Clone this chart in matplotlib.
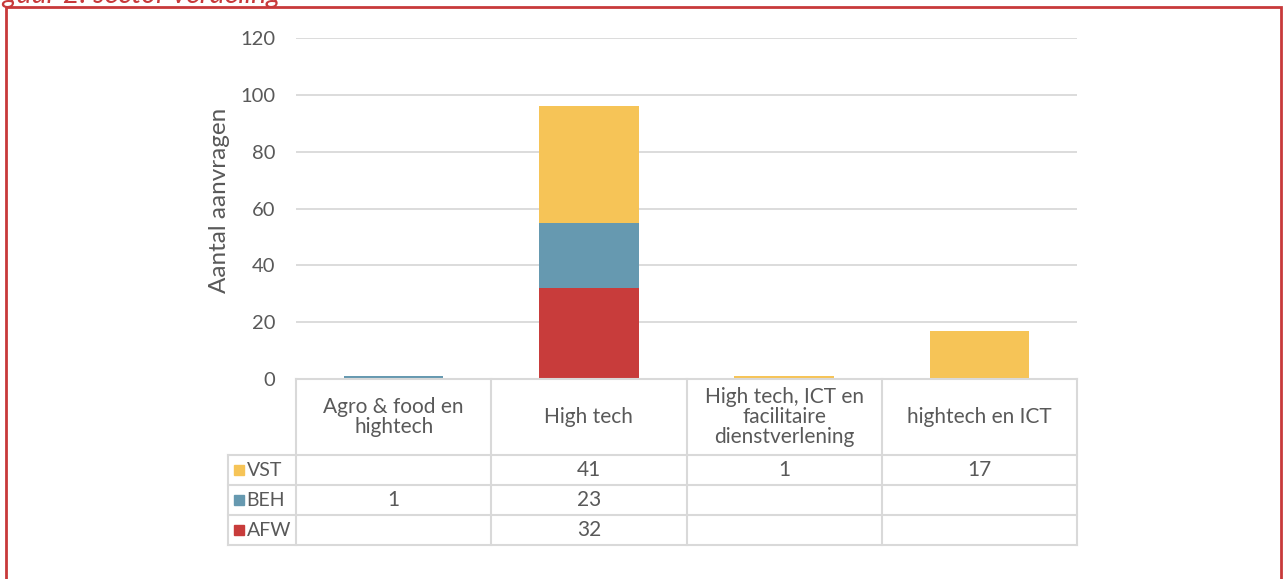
import numpy as np
import matplotlib
matplotlib.use("Agg")
import matplotlib.pyplot as plt

plt.rcParams['font.family'] = ['Lato', 'DejaVu Sans']

categories = ["Agro & food en\nhightech", "High tech",
              "High tech, ICT en\nfacilitaire\ndienstverlening", "hightech en ICT"]
series = ["VST", "BEH", "AFW"]
vst = [0, 41, 1, 17]
beh = [1, 23, 0, 0]
afw = [0, 32, 0, 0]
yticks = [0, 20, 40, 60, 80, 100, 120]

colors = {"VST": "#F6C457", "BEH": "#6699B0", "AFW": "#C83C3B"}
txt = "#595959"
grid = "#D9D9D9"

W, H = 1285, 579
fig = plt.figure(figsize=(W / 100, H / 100), dpi=100)


def px_axes(l, t, r, b):
    return fig.add_axes([l / W, 1 - b / H, (r - l) / W, (b - t) / H])


# border and clipped caption (cut off in the source image too)
fig.patches.append(plt.Rectangle((6 / W, -0.1), (1281 - 6) / W, 1.1 - 7 / H,
                                 transform=fig.transFigure, fill=False,
                                 edgecolor="#C8393A", lw=2))
fig.text(280 / W, 1 - 2.5 / H, "Figuur 2: sector verdeling", color="#C8393A",
         fontsize=20.5, ha="right", va="baseline", style="italic")

# bars
ax = px_axes(296, 38, 1077, 379)
x = np.arange(len(categories))
data = {"AFW": afw, "BEH": beh, "VST": vst}
bottom = np.zeros(len(categories))
for name in ["AFW", "BEH", "VST"]:
    vals = np.array(data[name], dtype=float)
    ax.bar(x, vals, width=0.51, bottom=bottom, color=colors[name], zorder=3)
    bottom += vals
ax.set_xlim(-0.5, 3.5)
ax.set_ylim(0, 120)
ax.set_yticks(yticks)
ax.yaxis.grid(True, color=grid, lw=1.3)
ax.set_axisbelow(True)
for s in ax.spines.values():
    s.set_visible(False)
ax.tick_params(axis="y", length=0, pad=15, labelsize=14.5, labelcolor=txt)
ax.set_xticks([])
ax.set_ylabel("Aantal aanvragen", color=txt, fontsize=17.5)
ax.yaxis.set_label_coords(-0.085, 0.525)

# data table
tab = px_axes(228, 379, 1077, 545)
hdr = -0.5 - (296 - 228) / ((1077 - 296) / 4)
tab.set_xlim(hdr, 3.5)
tab.set_ylim(166, 0)
tab.axis("off")
rows = [0, 76, 106, 136, 166]
lw = 1.5
tab.plot([-0.5, 3.5], [0, 0], color=grid, lw=lw, clip_on=False)
for yy in rows[1:]:
    tab.plot([hdr, 3.5], [yy, yy], color=grid, lw=lw, clip_on=False)
tab.plot([hdr, hdr], [76, 166], color=grid, lw=lw, clip_on=False)
for xx in np.arange(-0.5, 4, 1):
    tab.plot([xx, xx], [0, 166], color=grid, lw=lw, clip_on=False)

for i, c in enumerate(categories):
    tab.text(i, 38, c, ha="center", va="center", color=txt, fontsize=15,
             linespacing=1.0)

for r, name in enumerate(series):
    yc = (rows[r + 1] + rows[r + 2]) / 2
    tab.add_patch(plt.Rectangle((hdr + 0.03, yc - 5), 0.05, 10,
                                color=colors[name], clip_on=False))
    tab.text(hdr + 0.095, yc, name, ha="left", va="center", color=txt, fontsize=14)
    for i, v in enumerate(data[name]):
        if v:
            tab.text(i, yc, str(v), ha="center", va="center", color=txt, fontsize=15)

fig.savefig("out.png", dpi=100)
